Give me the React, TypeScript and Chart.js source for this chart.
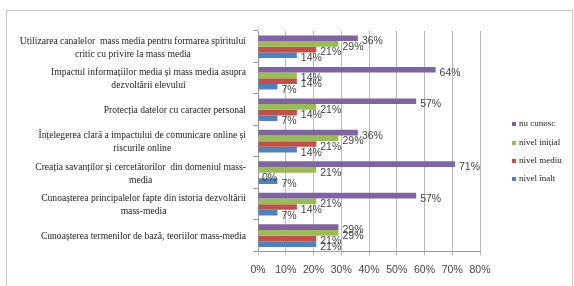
import React, { useEffect, useRef } from "react";
import { Chart, registerables } from "chart.js";
Chart.register(...registerables);

const categories: string[][] = [
  ["Utilizarea canalelor  mass media pentru formarea spiritului", "critic cu privire la mass media"],
  ["Impactul informațiilor media și mass media asupra", "dezvoltării elevului"],
  ["Protecția datelor cu caracter personal"],
  ["Înțelegerea clară a impactului de comunicare online și", "riscurile online"],
  ["Creația savanților și cercetătorilor  din domeniul mass-", "media"],
  ["Cunoașterea principalelor fapte din istoria dezvoltării", "mass-media"],
  ["Cunoașterea termenilor de bază, teoriilor mass-media"],
];
const seriesNames = ["nu cunosc", "nivel inițial", "nivel mediu", "nivel înalt"];
const nuCunosc = [36, 64, 57, 36, 71, 57, 29];
const nivelInitial = [29, 14, 21, 29, 21, 21, 29];
const nivelMediu = [21, 14, 14, 21, 0, 14, 21];
const nivelInalt = [14, 7, 7, 14, 7, 7, 21];
const xTicks = [0, 10, 20, 30, 40, 50, 60, 70, 80];
const colors = ["#8064A2", "#9BBB59", "#C0504D", "#4F81BD"];

export default function App() {
  const ref = useRef<HTMLCanvasElement>(null);
  useEffect(() => {
    document.body.style.margin = "0";
    const series = [nuCunosc, nivelInitial, nivelMediu, nivelInalt];
    const labelPlugin = {
      id: "custom",
      afterDraw(chart: any) {
        const ctx = chart.ctx;
        const yScale = chart.scales.y;
        ctx.save();
        ctx.fillStyle = "#222";
        ctx.font = "9.6px 'Liberation Serif', serif";
        ctx.textBaseline = "middle";
        ctx.textAlign = "center";
        categories.forEach((lines, i) => {
          const cy = yScale.getPixelForValue(i) + 1;
          const widths = lines.map((l) => ctx.measureText(l).width);
          const maxW = Math.max(...widths);
          const right = 246;
          const cx = right - maxW / 2;
          const lh = 13;
          const top = cy - ((lines.length - 1) * lh) / 2;
          lines.forEach((l, k) => ctx.fillText(l, cx, top + k * lh));
        });
        ctx.font = "10.5px 'Liberation Sans', sans-serif";
        ctx.fillStyle = "#404040";
        ctx.textAlign = "left";
        chart.data.datasets.forEach((ds: any, di: number) => {
          const meta = chart.getDatasetMeta(di);
          meta.data.forEach((bar: any, i: number) => {
            const v = ds.data[i];
            ctx.fillText(v + "%", bar.x + 4, bar.y + 3);
          });
        });
        ctx.font = "9px 'Liberation Serif', serif";
        const ly = [124, 143, 161, 179];
        seriesNames.forEach((n, i) => {
          ctx.fillStyle = colors[i];
          ctx.fillRect(512, ly[i] - 2, 4, 4);
          ctx.fillStyle = "#222";
          ctx.fillText(n, 519, ly[i]);
        });
        ctx.strokeStyle = "#c8c8c8";
        ctx.lineWidth = 1;
        ctx.strokeRect(6.5, 10.5, 566, 290);
        ctx.restore();
      },
    };
    const chart = new Chart(ref.current!, {
      type: "bar",
      data: {
        labels: categories.map((c) => c.join(" ")),
        datasets: series.map((d, i) => ({
          label: seriesNames[i],
          data: d,
          backgroundColor: colors[i],
          categoryPercentage: 0.72,
          barPercentage: 1,
        })),
      },
      options: {
        indexAxis: "y",
        animation: false,
        responsive: false,
        maintainAspectRatio: false,
        layout: { padding: { left: 0, right: 94, top: 31, bottom: 2 } },
        plugins: { legend: { display: false }, tooltip: { enabled: false } },
        scales: {
          x: {
            min: 0,
            max: 80,
            ticks: {
              stepSize: 10,
              maxRotation: 0,
              minRotation: 0,
              autoSkip: false,
              callback: (v: any) => (xTicks.includes(v) ? v + "%" : ""),
              font: { family: "'Liberation Sans', sans-serif", size: 10.5 },
              color: "#444",
              padding: 8,
            },
            grid: { color: "#b8b8b8", tickLength: 4 },
            border: { color: "#999" },
          },
          y: {
            afterFit: (s: any) => {
              s.width = 258;
            },
            ticks: { callback: () => "", font: { size: 1 } },
            grid: { drawOnChartArea: false, tickLength: 5, offset: true, color: "#999" },
            border: { color: "#999" },
          },
        },
      },
      plugins: [labelPlugin],
    });
    return () => chart.destroy();
  }, []);
  return (
    <div style={{ position: "absolute", left: 0, top: 0, width: 574, height: 286 }}>
      <canvas ref={ref} width={574} height={286} style={{ width: 574, height: 286 }} />
    </div>
  );
}
